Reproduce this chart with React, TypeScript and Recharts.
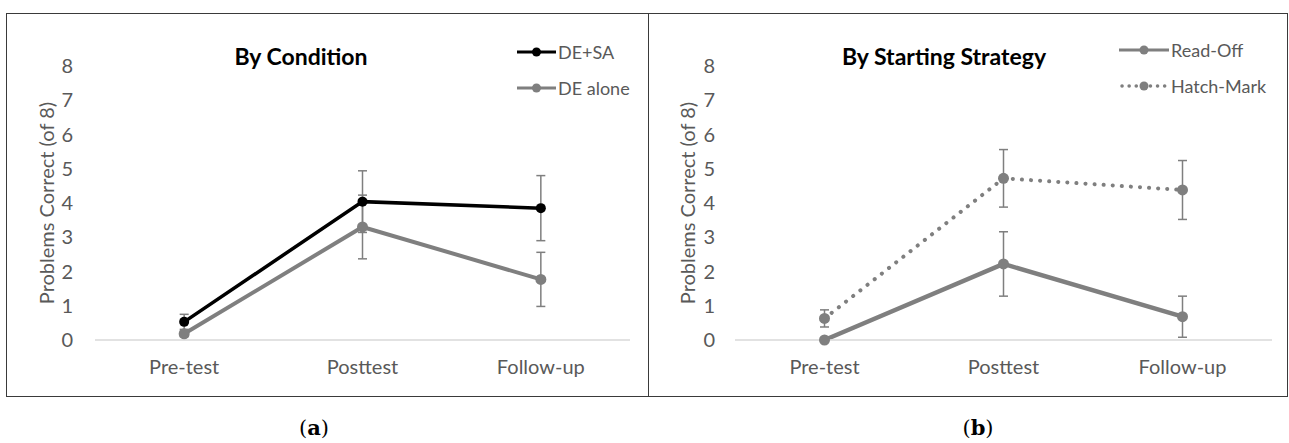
import React from 'react';
import { LineChart, Line, XAxis, YAxis, ErrorBar, Legend } from 'recharts';

// x categories and y ticks shared by both panels
const stages = ['Pre-test', 'Posttest', 'Follow-up'];
const yTicks = [0, 1, 2, 3, 4, 5, 6, 7, 8];

// (a) by condition
const deSa = [0.53, 4.04, 3.85];
const deSaErr = [0.22, 0.9, 0.95];
const deAlone = [0.18, 3.3, 1.77];
const deAloneErr = [0.08, 0.93, 0.79];

// (b) by starting strategy
const readOff = [0, 2.22, 0.68];
const readOffErr = [0, 0.94, 0.6];
const hatchMark = [0.63, 4.72, 4.38];
const hatchMarkErr = [0.25, 0.84, 0.86];

const conditionData = stages.map((stage, i) => ({
  stage,
  deSa: deSa[i],
  deSaErr: deSaErr[i],
  deAlone: deAlone[i],
  deAloneErr: deAloneErr[i],
}));

const strategyData = stages.map((stage, i) => ({
  stage,
  readOff: readOff[i],
  readOffErr: readOffErr[i],
  hatchMark: hatchMark[i],
  hatchMarkErr: hatchMarkErr[i],
}));

const FONT = 'Lato, "Open Sans", sans-serif';
const GREY = '#7f7f7f';
const TEXT = '#595959';

type Series = {
  key: string;
  err: string;
  name: string;
  color: string;
  width: number;
  r: number;
  dash?: string;
};

const conditionSeries: Series[] = [
  { key: 'deSa', err: 'deSaErr', name: 'DE+SA', color: '#000000', width: 3.5, r: 5 },
  { key: 'deAlone', err: 'deAloneErr', name: 'DE alone', color: GREY, width: 4, r: 5.5 },
];

const strategySeries: Series[] = [
  { key: 'readOff', err: 'readOffErr', name: 'Read-Off', color: GREY, width: 4.5, r: 5.5 },
  { key: 'hatchMark', err: 'hatchMarkErr', name: 'Hatch-Mark', color: GREY, width: 4, r: 5.5, dash: '0.1 9' },
];

function makeLegend(series: Series[], lineLen: number) {
  return () => (
    <div style={{ fontFamily: FONT }}>
      {series.map((s) => (
        <div key={s.key} style={{ display: 'flex', alignItems: 'center', height: 36 }}>
          <svg width={lineLen} height={14} style={{ display: 'block' }}>
            <line
              x1={s.dash ? 3 : 0}
              y1={7}
              x2={lineLen}
              y2={7}
              stroke={s.color}
              strokeWidth={s.dash ? 3.5 : 3}
              strokeDasharray={s.dash ? '0.1 7' : undefined}
              strokeLinecap={s.dash ? 'round' : 'butt'}
            />
            <circle cx={lineLen / 2} cy={7} r={4.5} fill={s.color} />
          </svg>
          <span style={{ fontSize: 18, color: TEXT, marginLeft: 2, whiteSpace: 'nowrap' }}>{s.name}</span>
        </div>
      ))}
    </div>
  );
}

type PanelProps = {
  left: number;
  top: number;
  width: number;
  height: number;
  data: any[];
  series: Series[];
  title: string;
  titleX: number;
  axisWidth: number;
  tickGap: number;
  rightMargin: number;
  legendX: number;
  legendY: number;
  legendLine: number;
};

function Panel(p: PanelProps) {
  return (
    <>
      <div style={{ position: 'absolute', left: p.left, top: p.top }}>
        <LineChart
          width={p.width}
          height={p.height}
          data={p.data}
          margin={{ top: 53, right: p.rightMargin, bottom: 0, left: -8 }}
          style={{ fontFamily: FONT }}
        >
          <XAxis
            dataKey="stage"
            scale="band"
            interval={0}
            height={57}
            tickSize={0}
            tickLine={false}
            tickMargin={20}
            axisLine={{ stroke: '#d9d9d9', strokeWidth: 1.5 }}
            tick={{ fill: TEXT, fontSize: 20 }}
          />
          <YAxis
            domain={[0, 8]}
            ticks={yTicks}
            width={p.axisWidth}
            tickSize={0}
            tickLine={false}
            axisLine={false}
            tickMargin={p.tickGap}
            tick={{ fill: TEXT, fontSize: 20 }}
            label={{
              value: 'Problems Correct (of 8)',
              angle: -90,
              position: 'center',
              fill: TEXT,
              fontSize: 20,
            }}
          />
          <text x={p.titleX} y={52} textAnchor="middle" fontSize={23} fontWeight="bold" fill="#000">
            {p.title}
          </text>
          <Legend
            layout="vertical"
            align="center"
            verticalAlign="middle"
            content={makeLegend(p.series, p.legendLine)}
            wrapperStyle={{ left: p.legendX, top: p.legendY, width: 'auto' }}
          />
          {p.series.map((s) => (
            <Line
              key={s.key}
              type="linear"
              dataKey={s.key}
              name={s.name}
              stroke={s.color}
              strokeWidth={s.width}
              strokeDasharray={s.dash}
              strokeLinecap={s.dash ? 'round' : 'butt'}
              dot={{ r: s.r, fill: s.color, stroke: s.color, strokeWidth: 0 }}
              activeDot={false}
              isAnimationActive={false}
            >
              <ErrorBar dataKey={s.err} direction="y" width={4.5} stroke={GREY} strokeWidth={1.5} />
            </Line>
          ))}
        </LineChart>
      </div>
      <div
        style={{
          position: 'absolute',
          left: p.left,
          top: p.top,
          width: p.width,
          height: p.height,
          border: '1px solid #3a3a3a',
          boxSizing: 'border-box',
          pointerEvents: 'none',
        }}
      />
    </>
  );
}

function Caption({ x, letter }: { x: number; letter: string }) {
  return (
    <div
      style={{
        position: 'absolute',
        left: x - 30,
        width: 60,
        top: 416,
        height: 24,
        lineHeight: '24px',
        textAlign: 'center',
        fontFamily: '"DejaVu Serif", serif',
        fontSize: 21,
        color: '#000',
      }}
    >
      (<b>{letter}</b>)
    </div>
  );
}

export default function App() {
  return (
    <div
      style={{
        position: 'absolute',
        left: 0,
        top: 0,
        width: 1289,
        height: 443,
        background: '#fff',
        overflow: 'hidden',
      }}
    >
      <Panel
        left={6}
        top={13}
        width={643}
        height={384}
        data={conditionData}
        series={conditionSeries}
        title="By Condition"
        titleX={295}
        axisWidth={97}
        tickGap={22}
        rightMargin={19}
        legendX={511}
        legendY={21}
        legendLine={39}
      />
      <Panel
        left={648}
        top={13}
        width={640}
        height={384}
        data={strategyData}
        series={strategySeries}
        title="By Starting Strategy"
        titleX={296}
        axisWidth={95}
        tickGap={20}
        rightMargin={16}
        legendX={471}
        legendY={19}
        legendLine={50}
      />
      <Caption x={314} letter="a" />
      <Caption x={978} letter="b" />
    </div>
  );
}
